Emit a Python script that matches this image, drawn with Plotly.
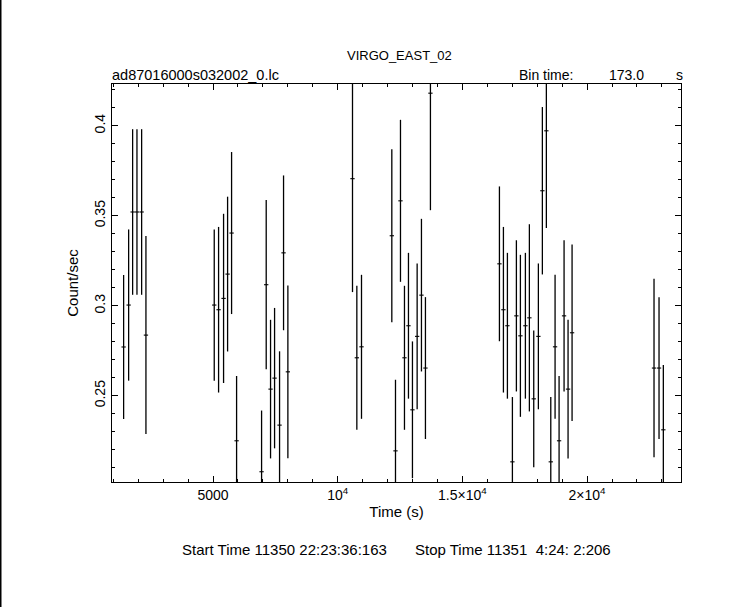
import plotly.graph_objects as go

# Light curve data
time_s = [1416, 1617, 1777, 1951, 2138, 2311,
          5050, 5224, 5424, 5585, 5745, 5946,
          6948, 7134, 7308, 7469, 7669, 7829, 8003,
          10594, 10768, 10955,
          12171, 12318, 12518, 12678, 12838, 12998, 13186, 13359, 13519, 13719,
          16486, 16646, 16806, 17006, 17166, 17327, 17527, 17687, 17862, 18048,
          18208, 18368, 18545, 18717, 18878, 19078, 19238, 19399,
          22685, 22886, 23059]
rate = [0.2771, 0.3004, 0.3521, 0.3521, 0.3521, 0.2837,
        0.3004, 0.2978, 0.3041, 0.3176, 0.3404, 0.2250,
        0.2078, 0.3117, 0.2537, 0.2598, 0.2337, 0.3294, 0.2633,
        0.3706, 0.2711, 0.2772,
        0.3389, 0.2194, 0.3583, 0.2711, 0.2889, 0.2422, 0.2830, 0.3059, 0.2654, 0.4181,
        0.3233, 0.2978, 0.2889, 0.2133, 0.2944, 0.2833, 0.2889, 0.2933, 0.2483, 0.2830,
        0.3639, 0.3972, 0.2133, 0.2772, 0.2250, 0.2944, 0.2537, 0.2850,
        0.2654, 0.2654, 0.2311]
rate_err = [0.040, 0.042, 0.046, 0.046, 0.046, 0.055,
            0.042, 0.046, 0.047, 0.043, 0.045, 0.036,
            0.034, 0.047, 0.0385, 0.039, 0.041, 0.043, 0.048,
            0.063, 0.040, 0.040,
            0.048, 0.0395, 0.045, 0.040, 0.0405, 0.038, 0.0405, 0.0424, 0.0394, 0.065,
            0.043, 0.046, 0.0405, 0.036, 0.042, 0.045, 0.0405, 0.052, 0.038, 0.0405,
            0.0465, 0.054, 0.036, 0.040, 0.036, 0.042, 0.0385, 0.049,
            0.0496, 0.0394, 0.036]
bin_time = 173.0
half_bin = [bin_time / 2] * len(time_s)

x_tickvals = [5000, 10000, 15000, 20000]
x_ticktext = ["5000", "10<sup>4</sup>", "1.5×10<sup>4</sup>", "2×10<sup>4</sup>"]
y_tickvals = [0.25, 0.3, 0.35, 0.4]
y_ticktext = ["0.25", "0.3", "0.35", "0.4"]

FONT = "Liberation Sans, Arial, sans-serif"

fig = go.Figure()
fig.add_trace(go.Scatter(
    x=time_s, y=rate, mode="markers",
    marker=dict(size=0.1, color="black", opacity=0),
    error_y=dict(type="data", array=rate_err, color="black", thickness=1.3, width=0),
    error_x=dict(type="data", array=half_bin, color="black", thickness=1.1, width=0),
    showlegend=False, hoverinfo="x+y",
))

L, R, T, B = 112, 62, 84, 125
W, H = 743, 607
pw, ph = W - L - R, H - T - B

fig.update_layout(
    width=W, height=H,
    margin=dict(l=L, r=R, t=T, b=B, pad=0),
    paper_bgcolor="white", plot_bgcolor="white",
    font=dict(family=FONT, size=13, color="black"),
    xaxis=dict(
        range=[950, 23767], showgrid=False, zeroline=False,
        showline=True, linecolor="black", linewidth=1, mirror="ticks",
        ticks="inside", ticklen=6, tickcolor="black", tickwidth=1,
        tickvals=x_tickvals, ticktext=x_ticktext,
        tickfont=dict(family=FONT, size=14),
        minor=dict(dtick=1000, tick0=0, ticks="inside", ticklen=3, tickcolor="black", showgrid=False),
        title=dict(text="Time (s)", font=dict(family=FONT, size=15), standoff=4),
    ),
    yaxis=dict(
        range=[0.2021, 0.4232], showgrid=False, zeroline=False,
        showline=True, linecolor="black", linewidth=1, mirror="ticks",
        ticks="inside", ticklen=6, tickcolor="black", tickwidth=1,
        tickvals=y_tickvals, ticktext=y_ticktext, tickangle=-90,
        tickfont=dict(family=FONT, size=14),
        minor=dict(dtick=0.01, tick0=0, ticks="inside", ticklen=3, tickcolor="black", showgrid=False),
        title=dict(text="Count/sec", font=dict(family=FONT, size=15), standoff=10),
    ),
)

def px_to_paper(x_px, y_px):
    return (x_px - L) / pw, (H - B - y_px) / ph

def add_text(text, x_px, y_px, anchor, size):
    ax, ay = px_to_paper(x_px, y_px)
    fig.add_annotation(text=text, x=ax, y=ay, xref="paper", yref="paper",
                       showarrow=False, xanchor=anchor, yanchor="middle",
                       font=dict(family=FONT, size=size))

add_text("VIRGO_EAST_02", 399, 56, "center", 13)
add_text("ad87016000s032002_0.lc", 110, 75, "left", 14.5)
add_text("Bin time:", 517, 75, "left", 14)
add_text(f"{bin_time:.1f}", 646, 75, "right", 14)
add_text("s", 685, 75, "right", 14)
add_text("Start Time 11350 22:23:36:163", 180, 549, "left", 15)
add_text("Stop Time 11351  4:24: 2:206", 413, 549, "left", 15)

x0, y0 = px_to_paper(0.75, 0)
x1, y1 = px_to_paper(0.75, H)
fig.add_shape(type="line", xref="paper", yref="paper", x0=x0, x1=x0, y0=y0, y1=y1,
              line=dict(color="black", width=1.5))

fig.write_html("out.html", config={"displayModeBar": False},
               post_script="document.body.style.margin='0';document.body.style.padding='0';")
